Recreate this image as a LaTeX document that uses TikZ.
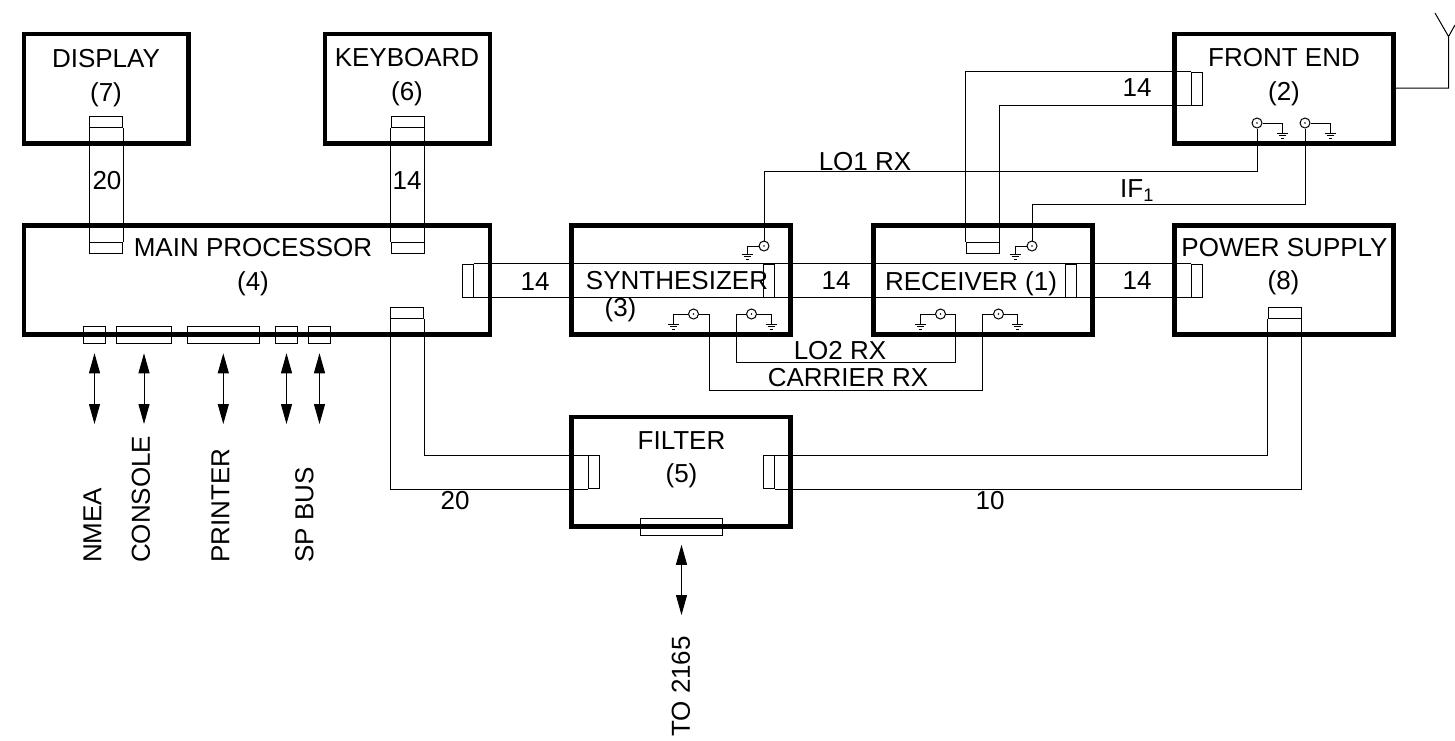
\documentclass[tikz,border=0pt]{standalone}
\usepackage{fontspec}
\setmainfont{Liberation Sans}
\usetikzlibrary{positioning, arrows.meta, calc}

\tikzset{
    unit/.style={draw, line width=4.6pt, inner sep=0pt, miter limit=10},
    plugv/.style={draw, line width=1pt, inner sep=0pt, minimum width=33pt, minimum height=11pt},
    plugh/.style={draw, line width=1pt, inner sep=0pt, minimum width=11pt, minimum height=33pt},
    port/.style={draw, line width=1pt, inner sep=0pt, minimum height=16.5pt},
    wire/.style={line width=1pt},
    coax/.style={draw, circle, line width=1pt, inner sep=0pt, minimum size=10pt},
    lbl/.style={font=\fontsize{26}{30}\selectfont, inner sep=0pt},
    lblup/.style={font=\fontsize{26}{30}\selectfont, inner sep=0pt, rotate=90, anchor=west},
    io/.style={line width=1pt, {Triangle[length=20pt,width=11pt]}-{Triangle[length=20pt,width=11pt]}},
    gnd/.pic={
        \draw[line width=0.8pt] (-5.5,0) -- (5.5,0) (-3.5,2.5) -- (3.5,2.5) (-1.5,5) -- (1.5,5);
    }
}

\begin{document}
\begin{tikzpicture}[x=1pt, y=-1pt]
    \useasboundingbox (0,0) rectangle (1455,740);

    % units
    \node[unit, minimum width=164.5pt, minimum height=109.5pt] (display) at (106.25,88.75) {};
    \node[unit, minimum width=165pt, minimum height=109.5pt] (keyboard) at (407.5,88.75) {};
    \node[unit, minimum width=219pt, minimum height=109.5pt] (frontend) at (1284,88.75) {};
    \node[unit, minimum width=466pt, minimum height=109pt] (mainproc) at (257,280) {};
    \node[unit, minimum width=219pt, minimum height=109pt] (synth) at (681,280) {};
    \node[unit, minimum width=219pt, minimum height=109pt] (receiver) at (983,280) {};
    \node[unit, minimum width=219pt, minimum height=109pt] (power) at (1284,280) {};
    \node[unit, minimum width=219pt, minimum height=109.5pt] (filter) at (681,471.75) {};

    % ribbons
    \node[plugv] (dispa) at (106,122) {};
    \node[plugv] (dispb) at (106,247.5) {};
    \draw[wire] (dispa.south west) -- (dispb.north west) (dispa.south east) -- (dispb.north east);
    \node[plugv] (keya) at (407.5,122) {};
    \node[plugv] (keyb) at (407.5,247.5) {};
    \draw[wire] (keya.south west) -- (keyb.north west) (keya.south east) -- (keyb.north east);

    \node[plugh] (busa) at (467.5,280.5) {};
    \node[plugh] (busb) at (769,280.5) {};
    \node[plugh] (busc) at (1070.5,280.5) {};
    \node[plugh] (busd) at (1196.5,280.5) {};
    \draw[wire] (busa.north east) -- (busd.north west) (busa.south east) -- (busd.south west);

    \node[plugh] (fronta) at (1196.5,88.5) {};
    \node[plugv] (frontb) at (982.5,247.5) {};
    \draw[wire] (fronta.north west) -| (frontb.north west) (fronta.south west) -| (frontb.north east);

    \node[plugv] (maind) at (407,313) {};
    \node[plugh] (filtera) at (594,472) {};
    \draw[wire] (maind.south east) |- (filtera.north west) (maind.south west) |- (filtera.south west);

    \node[plugv] (powerd) at (1284.5,313) {};
    \node[plugh] (filterb) at (769,472) {};
    \draw[wire] (powerd.south west) |- (filterb.north east) (powerd.south east) |- (filterb.south east);

    % ports and their arrows
    \foreach \name/\x/\w in {nmea/94.5/22.5, console/144/55.5, printer/223.3/72, spa/286.5/22.5, spb/319.5/22.5} {
        \node[port, minimum width=\w pt] (\name) at (\x,335) {};
        \coordinate (\name end) at (\x,424);
        \draw[io] ([yshift=-9.5pt]\name.south) -- (\name end);
    }
    \node[port, minimum width=82.5pt] (filterport) at (681.5,527) {};
    \coordinate (filterend) at (681.5,615);
    \draw[io] ([yshift=-9pt]filterport.south) -- (filterend);

    % coax connectors
    \foreach \name/\x/\y/\gx/\gy in {felo/1257/123/1282.5/133, feif/1305/123/1330/133,
        synlo/764/246/747/254, recif/1032/246/1015/254,
        syncar/693.5/314/673.5/324, synlob/751.5/314/771/324,
        reclo/940.5/314/920.5/324, reccar/998.5/314/1017.5/324} {
        \node[coax] (\name) at (\x,\y) {};
        \fill (\name) circle (0.9pt);
        \coordinate (\name g) at (\gx,\gy);
        \draw[line width=0.8pt] (\name) -- (\name -| \name g) -- (\name g);
        \pic at (\name g) {gnd};
    }
    \coordinate (lo) at (0,171);
    \coordinate (ifa) at (0,204);
    \coordinate (lob) at (0,362.5);
    \coordinate (carb) at (0,390);
    \coordinate (lobl) at (736.5,314);
    \coordinate (lobr) at (955.5,314);
    \coordinate (carl) at (709,314);
    \coordinate (carr) at (982.5,314);
    \draw[wire] (synlo.north) |- (lo -| felo) -- (felo.south);
    \draw[wire] (recif.north) |- (ifa -| feif) -- (feif.south);
    \draw[wire] (synlob.west) -- (lobl) |- (lob -| lobr) -- (lobr) -- (reclo.east);
    \draw[wire] (syncar.east) -- (carl) |- (carb -| carr) -- (carr) -- (reccar.west);

    % antenna
    \coordinate (antbase) at (1448.5,36.5);
    \coordinate (antl) at (1435,13);
    \coordinate (antr) at (1455,25);
    \draw[wire] (frontend.east |- 0,88) -| (antbase) -- (antl) (antbase) -- (antr);

    % labels
    \node[lbl, align=center] (displaylbl) at (106,78.5) {DISPLAY\\[4pt](7)};
    \node[lbl, align=center] (keyboardlbl) at (407,77.5) {KEYBOARD\\[4pt](6)};
    \node[lbl, align=center] (frontendlbl) at (1284,77) {FRONT END\\[4pt](2)};
    \node[lbl, align=center] (mainproclbl) at (253,267.5) {MAIN PROCESSOR\\[4pt](4)};
    \node[lbl] (powerlbl) at (1284.5,248) {POWER SUPPLY};
    \node[lbl] (powernum) at (1283.5,283) {(8)};
    \node[lbl, align=center] (filterlbl) at (681.5,460) {FILTER\\[3pt](5)};
    \node[lbl] (synthlbl) at (677,281) {SYNTHESIZER};
    \node[lbl] (synthnum) at (620.5,310) {(3)};
    \node[lbl] (receiverlbl) at (971,283.5) {RECEIVER (1)};
    \node[lbl] at (107,181) (dispn) {20};
    \node[lbl] at (407,181) (keyn) {14};
    \node[lbl] at (535,282) (busna) {14};
    \node[lbl] at (836,281) (busnb) {14};
    \node[lbl] at (1137,281) (busnc) {14};
    \node[lbl] at (1137,88) (frontn) {14};
    \node[lbl] at (455,501) (filtern) {20};
    \node[lbl] at (990,501) (powern) {10};
    \node[lbl] at (865,162) (lolbl) {LO1 RX};
    \node[lbl] at (1137,191) (iflbl) {IF\textsubscript{1}};
    \node[lbl] at (840,351) (loblbl) {LO2 RX};
    \node[lbl] at (848,378) (carlbl) {CARRIER RX};
    \node[lblup] at (92.5,563) (nmealbl) {NMEA};
    \node[lblup] at (141,563) (consolelbl) {CONSOLE};
    \node[lblup] at (220.5,563) (printerlbl) {PRINTER};
    \node[lblup] at (304.5,563) (spbuslbl) {SP BUS};
    \node[lblup] at (681,737) (tolbl) {TO 2165};
\end{tikzpicture}
\end{document}
